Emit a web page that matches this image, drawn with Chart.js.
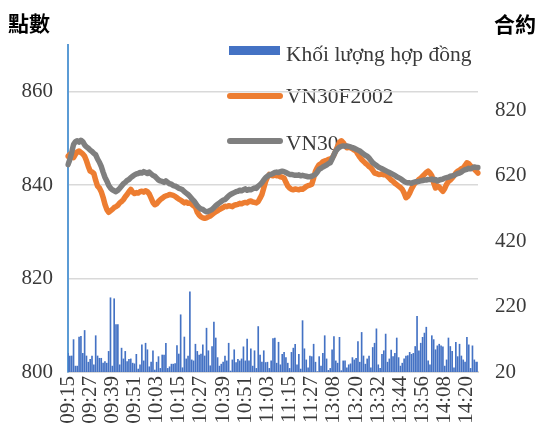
<!DOCTYPE html>
<html lang="zh-Hant">
<head>
<meta charset="UTF-8">
<title>VN30F2002</title>
<script src="https://cdn.jsdelivr.net/npm/chart.js"></script>
<style>
  html, body { margin: 0; padding: 0; background: #fff; }
</style>
</head>
<body>
<canvas id="chart" width="538" height="424"></canvas>

<script>
// trading sessions (one category per minute)
const sessions = [['09:15', '11:30'], ['13:00', '14:26']];
const tickLabels = ['09:15', '09:27', '09:39', '09:51', '10:03', '10:15', '10:27', '10:39', '10:51',
  '11:03', '11:15', '11:27', '13:08', '13:20', '13:32', '13:44', '13:56', '14:08', '14:20'];

// VN30F2002 (points)
const futures = [
  846.2, 846.6, 846.3, 845.9, 846.6, 847.1, 847.3, 847.0, 846.7, 846.2, 845.2, 844.0,
  843.0, 842.8, 842.5, 841.0, 839.8, 839.4, 838.6, 837.4, 835.9, 834.8, 834.2, 834.5,
  834.8, 835.2, 835.4, 835.7, 836.2, 836.5, 836.9, 837.5, 838.0, 838.6, 839.1, 838.5,
  838.2, 838.4, 838.3, 838.6, 838.7, 838.5, 838.8, 838.6, 838.1, 837.2, 836.3, 835.8,
  836.0, 836.5, 836.9, 837.2, 837.5, 837.7, 837.8, 838.0, 837.9, 837.8, 837.6, 837.3,
  837.0, 836.8, 836.5, 836.2, 836.4, 836.1, 836.2, 835.9, 835.6, 835.3, 834.2, 833.6,
  833.2, 833.0, 832.9, 833.0, 833.2, 833.4, 833.7, 834.0, 834.3, 834.5, 834.8, 835.0,
  835.2, 835.5, 835.4, 835.6, 835.5, 835.4, 835.7, 835.8, 835.9, 836.1, 836.0, 836.2,
  836.3, 836.2, 836.5, 836.6, 836.4, 836.3, 836.2, 836.5, 837.2, 838.0, 839.4, 840.8,
  841.7, 842.3, 842.1, 842.0, 842.2, 842.0, 842.0, 841.8, 841.7, 841.5, 840.6, 839.8,
  839.4, 839.1, 839.0, 839.2, 839.1, 839.0, 839.2, 839.1, 839.4, 839.7, 839.9, 840.0,
  840.2, 841.5, 843.0, 843.8, 844.4, 844.6, 845.0, 845.2, 845.3, 845.5, 845.6, 845.8,
  846.5, 847.4, 848.3, 849.2, 849.5, 849.1, 848.5, 848.0, 848.1, 848.0, 847.8, 847.5,
  847.3, 846.6, 846.0, 845.5, 845.1, 844.7, 844.4, 844.0, 843.7, 843.2, 842.6, 842.5,
  842.3, 842.3, 842.4, 842.2, 842.3, 841.9, 841.5, 841.1, 840.8, 840.4, 840.1, 839.8,
  839.5, 839.1, 838.3, 837.3, 837.6, 838.3, 839.2, 839.9, 840.5, 840.8, 841.2, 841.5,
  841.9, 842.3, 842.7, 843.0, 842.6, 842.0, 840.5, 839.4, 839.8, 839.6, 839.1, 838.7,
  839.3, 840.2, 840.8, 841.1, 841.5, 842.0, 842.6, 843.0, 843.2, 843.5, 843.7, 844.2,
  844.8, 844.6, 844.1, 843.8, 843.4, 843.0, 842.6
];

// VN30 index (points)
const vn30 = [
  844.4, 845.5, 847.0, 848.7, 849.3, 849.5, 849.2, 849.6, 849.3, 848.6, 848.2, 847.9,
  847.5, 847.2, 846.8, 846.5, 845.6, 844.9, 844.0, 842.8, 841.7, 840.9, 840.0, 839.4,
  839.0, 838.8, 838.6, 838.9, 839.3, 839.8, 840.3, 840.6, 841.0, 841.2, 841.6, 841.9,
  842.2, 842.4, 842.5, 842.7, 842.6, 842.9, 842.7, 842.5, 842.8, 842.4, 842.1, 841.9,
  841.5, 841.1, 840.9, 840.8, 840.6, 840.9, 840.6, 840.3, 840.2, 839.9, 839.8, 839.6,
  839.3, 839.2, 839.0, 838.6, 838.3, 838.0, 837.6, 837.1, 836.7, 836.2, 835.6, 835.2,
  834.9, 834.8, 834.5, 834.3, 834.4, 834.6, 834.8, 835.2, 835.6, 835.9, 836.2, 836.5,
  836.8, 836.9, 837.3, 837.7, 838.0, 838.2, 838.4, 838.6, 838.7, 838.9, 838.8, 839.0,
  839.2, 838.9, 839.1, 839.0, 839.2, 839.4, 839.3, 839.8, 840.1, 840.5, 841.1, 841.6,
  841.9, 842.2, 842.3, 842.5, 842.7, 842.8, 842.7, 842.9, 843.0, 842.9, 842.7, 842.5,
  842.3, 842.3, 842.2, 842.1, 842.1, 842.2, 842.0, 842.1, 842.0, 841.9, 841.8, 841.8,
  841.9, 842.1, 842.3, 842.8, 843.4, 843.6, 843.9, 844.1, 844.3, 844.6, 844.8, 845.6,
  846.5, 847.3, 847.8, 848.1, 848.3, 848.4, 848.3, 848.4, 848.3, 848.2, 848.0, 847.9,
  847.7, 847.5, 847.3, 847.0, 846.7, 846.4, 846.2, 845.8, 845.3, 844.8, 844.5, 844.2,
  843.9, 843.7, 843.5, 843.3, 843.1, 842.9, 842.7, 842.5, 842.3, 842.1, 841.8, 841.6,
  841.4, 841.1, 840.8, 840.6, 840.5, 840.5, 840.4, 840.6, 840.7, 840.7, 840.8, 840.9,
  841.0, 841.1, 841.1, 841.2, 841.2, 841.3, 841.1, 841.2, 840.9, 841.1, 841.2, 841.3,
  841.5, 841.6, 841.7, 841.9, 842.0, 842.1, 842.3, 842.5, 842.6, 842.8, 843.1, 843.3,
  843.4, 843.6, 843.5, 843.7, 843.9, 843.8, 843.8
];

// contracts traded per minute
const volume = [
  77, 69, 69, 119, 38, 38, 127, 129, 77, 147, 69, 50,
  59, 69, 42, 131, 69, 62, 62, 47, 52, 47, 83, 247,
  38, 244, 165, 165, 42, 93, 60, 83, 52, 59, 60, 47,
  45, 74, 29, 42, 103, 54, 108, 88, 36, 50, 85, 26,
  50, 67, 31, 72, 72, 108, 31, 36, 44, 44, 46, 101,
  75, 195, 33, 127, 60, 69, 265, 57, 54, 105, 83, 72,
  75, 103, 69, 154, 85, 39, 98, 173, 124, 64, 38, 44,
  50, 69, 54, 108, 23, 57, 88, 49, 59, 54, 60, 97,
  54, 121, 54, 91, 38, 85, 31, 159, 72, 50, 85, 49,
  50, 31, 54, 122, 124, 47, 111, 42, 74, 80, 64, 47,
  31, 80, 93, 105, 42, 74, 29, 177, 91, 57, 33, 69,
  67, 105, 50, 21, 67, 38, 77, 131, 60, 25, 31, 88,
  128, 54, 47, 126, 24, 54, 54, 33, 42, 45, 64, 57,
  62, 113, 50, 141, 69, 44, 60, 69, 33, 95, 108, 152,
  42, 31, 74, 85, 136, 50, 60, 87, 67, 77, 124, 64,
  38, 47, 60, 69, 70, 80, 74, 77, 98, 190, 85, 108,
  126, 139, 157, 54, 42, 131, 119, 88, 100, 105, 100, 97,
  38, 57, 124, 98, 83, 33, 111, 67, 105, 69, 57, 50,
  126, 103, 31, 100, 57, 50, 50
];

function toMin(t) { const p = t.split(':'); return +p[0] * 60 + +p[1]; }
function fmt(m) { return String(Math.floor(m / 60)).padStart(2, '0') + ':' + String(m % 60).padStart(2, '0'); }
const times = [];
sessions.forEach(s => { for (let m = toMin(s[0]); m <= toMin(s[1]); m++) times.push(fmt(m)); });

const serif = '"Liberation Serif", "Times New Roman", serif';
const textColor = '#3a3a3a';
Chart.defaults.font.family = serif;
Chart.defaults.font.size = 21;
Chart.defaults.color = textColor;

// legend inside the plot + the two axis captions at the top
const decor = {
  id: 'decor',
  beforeDraw(chart) {
    const ctx = chart.ctx;
    const ds = chart.data.datasets;
    ctx.save();
    ctx.font = '21.5px ' + serif;
    ctx.textBaseline = 'alphabetic';
    // bars
    ctx.fillStyle = ds[0].backgroundColor;
    ctx.fillRect(229, 46, 51, 9);
    ctx.fillStyle = textColor;
    ctx.fillText(ds[0].label, 286, 61);
    // lines
    [[ds[1], 96, 103], [ds[2], 141, 150]].forEach(([d, ly, ty]) => {
      ctx.strokeStyle = d.borderColor;
      ctx.lineWidth = 6;
      ctx.lineCap = 'round';
      ctx.beginPath();
      ctx.moveTo(230, ly);
      ctx.lineTo(280, ly);
      ctx.stroke();
      ctx.fillText(d.label, 286, ty);
    });
    ctx.restore();
  },
  afterDraw(chart) {
    const ctx = chart.ctx;
    ctx.save();
    ctx.font = 'bold 21px "Noto Sans CJK TC"';
    ctx.fillStyle = '#000';
    ctx.textBaseline = 'middle';
    ctx.textAlign = 'left';
    ctx.fillText('點數', 8, 23);
    ctx.fillText('合約', 494, 24);
    ctx.restore();
  }
};

new Chart(document.getElementById('chart'), {
  type: 'bar',
  data: {
    labels: times,
    datasets: [
      {
        label: 'Khối lượng hợp đồng',
        data: volume,
        yAxisID: 'y1',
        backgroundColor: '#4472C4',
        barThickness: 1,
        order: 3
      },
      {
        type: 'line',
        label: 'VN30F2002',
        data: futures,
        yAxisID: 'y',
        borderColor: '#ED7D31',
        borderWidth: 5.5,
        pointRadius: 0,
        tension: 0,
        borderJoinStyle: 'round',
        borderCapStyle: 'round',
        order: 2
      },
      {
        type: 'line',
        label: 'VN30',
        data: vn30,
        yAxisID: 'y',
        borderColor: '#7F7F7F',
        borderWidth: 5.5,
        pointRadius: 0,
        tension: 0,
        borderJoinStyle: 'round',
        borderCapStyle: 'round',
        order: 1
      }
    ]
  },
  options: {
    responsive: false,
    animation: false,
    devicePixelRatio: 1,
    layout: { padding: { top: 45 } },
    plugins: { legend: { display: false }, tooltip: { enabled: false } },
    scales: {
      x: {
        offset: false,
        grid: { display: false, drawTicks: false },
        border: { color: '#d9d9d9', width: 2 },
        ticks: {
          autoSkip: false,
          minRotation: 90,
          maxRotation: 90,
          padding: 4,
          callback(v) {
            const t = this.getLabelForValue(v);
            return tickLabels.includes(t) ? t : '';
          }
        },
        afterFit(s) { s.height = 52; }
      },
      y: {
        position: 'left',
        min: 800,
        max: 870,
        ticks: { stepSize: 20, padding: 15 },
        afterBuildTicks(s) { s.ticks = s.ticks.filter(t => t.value % 20 === 0); },
        grid: { color: '#d9d9d9', lineWidth: 1.5, drawTicks: false },
        border: { color: '#5B9BD5', width: 2 },
        afterFit(s) { s.width = 68; }
      },
      y1: {
        position: 'right',
        min: 20,
        max: 1020,
        ticks: { stepSize: 200, padding: 17 },
        afterBuildTicks(s) { s.ticks = s.ticks.filter(t => t.value < 1000); },
        grid: { display: false, drawTicks: false },
        border: { display: false },
        afterFit(s) { s.width = 60; }
      }
    }
  },
  plugins: [decor]
});
</script>
</body>
</html>
